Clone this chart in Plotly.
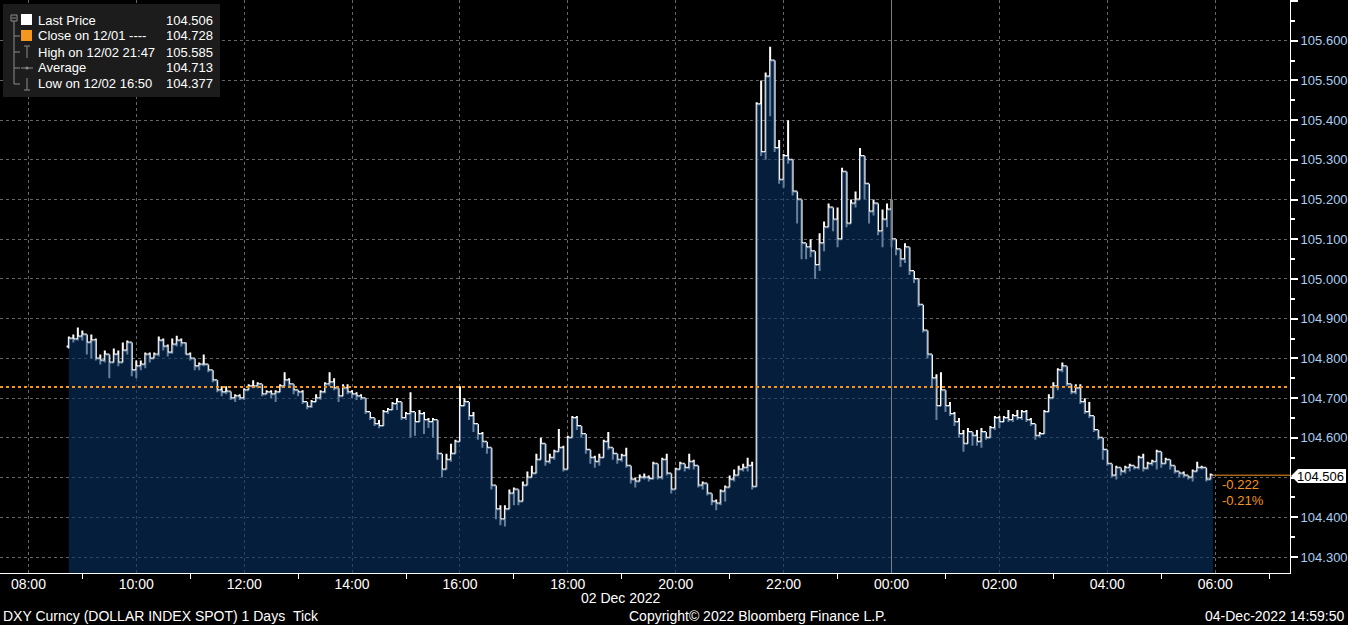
import pandas as pd
import plotly.graph_objects as go

# ---------------- data (DXY, 5-minute bars, 02 Dec 2022 08:45 -> 03 Dec 05:55) ----------------
start_time = "2022-12-02 08:45"
first_open = 104.830
prev_close = 104.728
last_price = 104.506
net_change = "-0.222"
pct_change = "-0.21%"

close_px = [
    104.850, 104.848, 104.855, 104.860, 104.840, 104.846, 104.800, 104.795, 104.810, 104.790,
    104.810, 104.790, 104.820, 104.840, 104.770, 104.780, 104.785, 104.810, 104.800, 104.810,
    104.845, 104.830, 104.815, 104.835, 104.845, 104.838, 104.810, 104.800, 104.780, 104.785,
    104.785, 104.770, 104.745, 104.720, 104.715, 104.717, 104.700, 104.705, 104.700, 104.720,
    104.730, 104.730, 104.735, 104.710, 104.715, 104.710, 104.715, 104.730, 104.745, 104.735,
    104.720, 104.715, 104.690, 104.678, 104.690, 104.700, 104.715, 104.735, 104.740, 104.725,
    104.705, 104.725, 104.715, 104.710, 104.705, 104.700, 104.665, 104.650, 104.635, 104.630,
    104.665, 104.670, 104.685, 104.690, 104.650, 104.660, 104.665, 104.640, 104.660, 104.645,
    104.640, 104.645, 104.560, 104.520, 104.545, 104.560, 104.590, 104.680, 104.690, 104.655,
    104.635, 104.610, 104.590, 104.575, 104.480, 104.420, 104.395, 104.420, 104.460, 104.470,
    104.440, 104.480, 104.500, 104.510, 104.545, 104.585, 104.540, 104.550, 104.565, 104.575,
    104.520, 104.600, 104.650, 104.630, 104.610, 104.570, 104.550, 104.540, 104.550, 104.590,
    104.575, 104.560, 104.545, 104.555, 104.530, 104.495, 104.490, 104.500, 104.500, 104.497,
    104.535, 104.500, 104.545, 104.510, 104.470, 104.520, 104.535, 104.525, 104.540, 104.530,
    104.480, 104.485, 104.460, 104.440, 104.435, 104.465, 104.475, 104.495, 104.505, 104.520,
    104.525, 104.530, 104.477, 105.440, 105.320, 105.510, 105.550, 105.330, 105.250, 105.310,
    105.300, 105.220, 105.200, 105.090, 105.080, 105.070, 105.035, 105.090, 105.130, 105.180,
    105.150, 105.100, 105.270, 105.140, 105.190, 105.200, 105.310, 105.240, 105.170, 105.190,
    105.120, 105.150, 105.175, 105.100, 105.075, 105.050, 105.080, 105.020, 105.000, 104.935,
    104.870, 104.810, 104.750, 104.680, 104.720, 104.680, 104.660, 104.640, 104.610, 104.585,
    104.615, 104.605, 104.590, 104.615, 104.600, 104.625, 104.650, 104.640, 104.650, 104.645,
    104.655, 104.650, 104.665, 104.645, 104.635, 104.605, 104.610, 104.665, 104.700, 104.730,
    104.770, 104.780, 104.735, 104.715, 104.725, 104.690, 104.665, 104.655, 104.620, 104.600,
    104.570, 104.535, 104.505, 104.525, 104.515, 104.525, 104.530, 104.525, 104.550, 104.523,
    104.535, 104.540, 104.565, 104.535, 104.545, 104.530, 104.515, 104.510, 104.505, 104.500,
    104.515, 104.525, 104.525, 104.495, 104.506,
]

high_px = [
    104.855, 104.860, 104.878, 104.870, 104.860, 104.860, 104.850, 104.810, 104.820, 104.810,
    104.825, 104.820, 104.840, 104.845, 104.840, 104.795, 104.795, 104.815, 104.815, 104.815,
    104.855, 104.850, 104.835, 104.850, 104.857, 104.850, 104.840, 104.815, 104.800, 104.790,
    104.810, 104.785, 104.770, 104.745, 104.730, 104.730, 104.717, 104.710, 104.710, 104.725,
    104.735, 104.745, 104.740, 104.735, 104.720, 104.720, 104.720, 104.735, 104.765, 104.750,
    104.735, 104.720, 104.720, 104.690, 104.695, 104.710, 104.720, 104.740, 104.765, 104.750,
    104.725, 104.735, 104.735, 104.720, 104.715, 104.710, 104.700, 104.665, 104.650, 104.645,
    104.670, 104.675, 104.690, 104.700, 104.690, 104.665, 104.715, 104.665, 104.670, 104.665,
    104.650, 104.650, 104.645, 104.560, 104.560, 104.585, 104.595, 104.730, 104.700, 104.690,
    104.665, 104.635, 104.615, 104.590, 104.575, 104.480, 104.430, 104.430, 104.470, 104.475,
    104.470, 104.490, 104.515, 104.530, 104.560, 104.600, 104.585, 104.560, 104.570, 104.622,
    104.580, 104.605, 104.655, 104.655, 104.630, 104.610, 104.570, 104.555, 104.560, 104.595,
    104.615, 104.575, 104.560, 104.560, 104.575, 104.530, 104.500, 104.508, 104.510, 104.505,
    104.540, 104.535, 104.550, 104.560, 104.510, 104.525, 104.540, 104.535, 104.560, 104.545,
    104.530, 104.490, 104.485, 104.460, 104.445, 104.470, 104.480, 104.505, 104.520, 104.530,
    104.535, 104.550, 104.540, 105.445, 105.500, 105.520, 105.585, 105.550, 105.350, 105.315,
    105.400, 105.300, 105.220, 105.200, 105.090, 105.100, 105.070, 105.115, 105.145, 105.190,
    105.180, 105.180, 105.280, 105.270, 105.200, 105.220, 105.330, 105.310, 105.240, 105.200,
    105.190, 105.175, 105.190, 105.200, 105.100, 105.075, 105.090, 105.080, 105.020, 105.000,
    104.935, 104.870, 104.810, 104.760, 104.765, 104.720, 104.690, 104.665, 104.650, 104.620,
    104.625, 104.615, 104.620, 104.625, 104.615, 104.630, 104.655, 104.655, 104.655, 104.670,
    104.660, 104.670, 104.670, 104.670, 104.650, 104.635, 104.615, 104.670, 104.710, 104.740,
    104.775, 104.790, 104.780, 104.735, 104.735, 104.735, 104.700, 104.690, 104.655, 104.620,
    104.600, 104.570, 104.535, 104.530, 104.525, 104.530, 104.535, 104.530, 104.555, 104.560,
    104.540, 104.545, 104.570, 104.565, 104.550, 104.545, 104.530, 104.515, 104.515, 104.505,
    104.520, 104.540, 104.530, 104.525, 104.510,
]

low_px = [
    104.825, 104.840, 104.845, 104.845, 104.810, 104.800, 104.795, 104.785, 104.790, 104.750,
    104.790, 104.780, 104.790, 104.810, 104.755, 104.750, 104.770, 104.775, 104.790, 104.800,
    104.805, 104.820, 104.805, 104.812, 104.830, 104.830, 104.810, 104.795, 104.770, 104.770,
    104.780, 104.765, 104.740, 104.715, 104.705, 104.710, 104.695, 104.690, 104.695, 104.695,
    104.720, 104.725, 104.725, 104.705, 104.710, 104.700, 104.690, 104.715, 104.730, 104.730,
    104.710, 104.705, 104.685, 104.672, 104.675, 104.690, 104.696, 104.712, 104.730, 104.720,
    104.690, 104.705, 104.710, 104.700, 104.695, 104.695, 104.660, 104.645, 104.630, 104.624,
    104.630, 104.660, 104.670, 104.670, 104.645, 104.645, 104.600, 104.605, 104.640, 104.610,
    104.625, 104.600, 104.545, 104.500, 104.520, 104.540, 104.560, 104.590, 104.680, 104.645,
    104.615, 104.595, 104.575, 104.560, 104.470, 104.395, 104.380, 104.377, 104.420, 104.430,
    104.430, 104.440, 104.480, 104.500, 104.510, 104.545, 104.530, 104.535, 104.545, 104.565,
    104.515, 104.520, 104.600, 104.620, 104.600, 104.560, 104.535, 104.525, 104.530, 104.550,
    104.570, 104.545, 104.535, 104.540, 104.525, 104.485, 104.475, 104.490, 104.495, 104.490,
    104.495, 104.495, 104.495, 104.505, 104.460, 104.470, 104.520, 104.515, 104.520, 104.520,
    104.475, 104.470, 104.455, 104.430, 104.418, 104.430, 104.440, 104.475, 104.490, 104.505,
    104.515, 104.515, 104.470, 104.477, 105.310, 105.300, 105.410, 105.320, 105.240, 105.230,
    105.290, 105.210, 105.140, 105.050, 105.050, 105.055, 105.000, 105.020, 105.070, 105.130,
    105.120, 105.080, 105.100, 105.130, 105.140, 105.180, 105.200, 105.200, 105.140, 105.160,
    105.110, 105.080, 105.130, 105.080, 105.060, 105.030, 105.040, 105.010, 104.990, 104.930,
    104.865, 104.800, 104.730, 104.645, 104.680, 104.665, 104.655, 104.630, 104.600, 104.565,
    104.585, 104.580, 104.580, 104.575, 104.595, 104.600, 104.620, 104.625, 104.640, 104.640,
    104.640, 104.645, 104.645, 104.640, 104.630, 104.595, 104.600, 104.610, 104.665, 104.700,
    104.720, 104.765, 104.730, 104.710, 104.710, 104.685, 104.660, 104.650, 104.615, 104.595,
    104.545, 104.530, 104.500, 104.495, 104.505, 104.510, 104.515, 104.520, 104.520, 104.515,
    104.520, 104.530, 104.520, 104.525, 104.535, 104.520, 104.510, 104.500, 104.500, 104.495,
    104.490, 104.515, 104.520, 104.490, 104.495,
]

legend_labels = ["Last Price", "Close on 12/01 ----", "High on 12/02 21:47", "Average", "Low on 12/02 16:50"]
legend_values = ["104.506", "104.728", "105.585", "104.713", "104.377"]

# y tick labels (104.500 is covered by the last-price tag in the original)
y_tick_vals = [104.3, 104.4, 104.5, 104.6, 104.7, 104.8, 104.9, 105.0, 105.1, 105.2, 105.3, 105.4, 105.5, 105.6, 105.7]
y_tick_text = ["104.300", "104.400", "", "104.600", "104.700", "104.800", "104.900", "105.000",
               "105.100", "105.200", "105.300", "105.400", "105.500", "105.600", ""]

x_range = ["2022-12-02 07:28:25", "2022-12-03 07:23:13"]
y_range = [104.2597, 105.7025]
day_break = "2022-12-03 00:00"
date_label = "02 Dec 2022"
footer_left = "DXY Curncy (DOLLAR INDEX SPOT) 1 Days\u00a0\u00a0Tick"
footer_mid = "Copyright\u00a9 2022 Bloomberg Finance L.P."
footer_right = "04-Dec-2022 14:59:50"

# ---------------- build ----------------
times = pd.date_range(start_time, periods=len(close_px), freq="5min")
open_px = [first_open] + close_px[:-1]
half_bar = pd.Timedelta(minutes=2.5)

W, H = 1348, 625
ML, MR, MT, MB = 0, 58, 0, 52
PW, PH = W - ML - MR, H - MT - MB


def px(x):
    return (x - ML) / PW


def py(y):
    return 1 - (y - MT) / PH


ORANGE = "#f5961e"
FONT = "Liberation Sans Narrow, Arial Narrow, Liberation Sans, Arial, sans-serif"
FONT2 = "Liberation Sans, Arial, sans-serif"

fig = go.Figure()

fill_x = list(times) + [times[-1] + half_bar]
fill_y = close_px + [close_px[-1]]
fig.add_trace(go.Scatter(
    x=fill_x, y=fill_y, mode="lines", line=dict(width=0, shape="hv"),
    fill="tozeroy", fillcolor="rgba(8,48,96,0.62)", hoverinfo="skip", showlegend=False,
))
fig.add_trace(go.Ohlc(
    x=times, open=open_px, high=high_px, low=low_px, close=close_px,
    increasing=dict(line=dict(color="#ffffff", width=2)),
    decreasing=dict(line=dict(color="#ffffff", width=2)),
    tickwidth=0.5, showlegend=False,
))

shapes = []
shapes.append(dict(type="line", xref="paper", yref="y", x0=0, x1=1, y0=prev_close, y1=prev_close,
                   line=dict(color=ORANGE, width=2, dash="dot"), layer="above"))
shapes.append(dict(type="line", xref="x", yref="paper", x0=day_break, x1=day_break, y0=0, y1=1,
                   line=dict(color="#7a7f86", width=1), layer="above"))
shapes.append(dict(type="line", xref="x", yref="y", x0=times[-1] + half_bar, x1=x_range[1],
                   y0=last_price, y1=last_price, line=dict(color=ORANGE, width=1)))
tag_y0, tag_y1, tag_mid = 469, 483, 476
path = (f"M {px(1291)},{py(tag_mid)} L {px(1298)},{py(tag_y0)} L {px(1346)},{py(tag_y0)} "
        f"L {px(1346)},{py(tag_y1)} L {px(1298)},{py(tag_y1)} Z")
shapes.append(dict(type="path", xref="paper", yref="paper", path=path,
                   fillcolor="white", line=dict(width=0)))

shapes.append(dict(type="rect", xref="paper", yref="paper", x0=px(3), x1=px(220), y0=py(97), y1=py(4),
                   fillcolor="#1c1c1c", line=dict(width=0), layer="above"))
rows = [20, 36, 52, 68, 84]
gray = "#8c8c8c"
shapes.append(dict(type="rect", xref="paper", yref="paper", x0=px(11), x1=px(17), y0=py(21), y1=py(15),
                   line=dict(color=gray, width=1), fillcolor="rgba(0,0,0,0)"))
shapes.append(dict(type="line", xref="paper", yref="paper", x0=px(12), x1=px(16), y0=py(18), y1=py(18),
                   line=dict(color=gray, width=1)))
shapes.append(dict(type="line", xref="paper", yref="paper", x0=px(14), x1=px(14), y0=py(21), y1=py(84),
                   line=dict(color=gray, width=1)))
for ry in rows[1:]:
    shapes.append(dict(type="line", xref="paper", yref="paper", x0=px(14), x1=px(20), y0=py(ry), y1=py(ry),
                       line=dict(color=gray, width=1)))
shapes.append(dict(type="rect", xref="paper", yref="paper", x0=px(21), x1=px(32), y0=py(25), y1=py(14),
                   fillcolor="white", line=dict(width=0)))
shapes.append(dict(type="rect", xref="paper", yref="paper", x0=px(21), x1=px(32), y0=py(41), y1=py(30),
                   fillcolor=ORANGE, line=dict(width=0)))
shapes.append(dict(type="line", xref="paper", yref="paper", x0=px(27), x1=px(27), y0=py(46), y1=py(58),
                   line=dict(color=gray, width=1)))
shapes.append(dict(type="line", xref="paper", yref="paper", x0=px(24), x1=px(30), y0=py(46), y1=py(46),
                   line=dict(color=gray, width=1)))
shapes.append(dict(type="line", xref="paper", yref="paper", x0=px(21), x1=px(33), y0=py(68), y1=py(68),
                   line=dict(color=gray, width=1)))
shapes.append(dict(type="circle", xref="paper", yref="paper", x0=px(25.5), x1=px(28.5), y0=py(69.5), y1=py(66.5),
                   fillcolor=gray, line=dict(width=0)))
shapes.append(dict(type="line", xref="paper", yref="paper", x0=px(27), x1=px(27), y0=py(78), y1=py(90),
                   line=dict(color=gray, width=1)))
shapes.append(dict(type="line", xref="paper", yref="paper", x0=px(24), x1=px(30), y0=py(90), y1=py(90),
                   line=dict(color=gray, width=1)))

annotations = []
for ry, lab, val in zip(rows, legend_labels, legend_values):
    annotations.append(dict(xref="paper", yref="paper", x=px(36), y=py(ry), text=lab, showarrow=False,
                            xanchor="left", yanchor="middle", font=dict(family=FONT2, size=13, color="white")))
    annotations.append(dict(xref="paper", yref="paper", x=px(215), y=py(ry), text=val, showarrow=False,
                            xanchor="right", yanchor="middle", font=dict(family=FONT2, size=13, color="white")))

annotations.append(dict(xref="paper", yref="paper", x=px(1321), y=py(tag_mid), text=f"{last_price:.3f}",
                        showarrow=False, xanchor="center", yanchor="middle",
                        font=dict(family=FONT2, size=13, color="black")))
annotations.append(dict(xref="paper", yref="paper", x=px(1220), y=py(484), text=net_change, showarrow=False,
                        xanchor="left", yanchor="middle", font=dict(family=FONT2, size=13, color=ORANGE)))
annotations.append(dict(xref="paper", yref="paper", x=px(1220), y=py(500), text=pct_change, showarrow=False,
                        xanchor="left", yanchor="middle", font=dict(family=FONT2, size=13, color=ORANGE)))
annotations.append(dict(xref="paper", yref="paper", x=px(621), y=py(598), text=date_label, showarrow=False,
                        xanchor="center", yanchor="middle", font=dict(family=FONT, size=14, color="white")))
annotations.append(dict(xref="paper", yref="paper", x=px(1), y=py(616), text=footer_left, showarrow=False,
                        xanchor="left", yanchor="middle", font=dict(family=FONT, size=14, color="white")))
annotations.append(dict(xref="paper", yref="paper", x=px(627), y=py(616), text=footer_mid, showarrow=False,
                        xanchor="left", yanchor="middle", font=dict(family=FONT, size=14, color="white")))
annotations.append(dict(xref="paper", yref="paper", x=px(1347), y=py(616), text=footer_right, showarrow=False,
                        xanchor="right", yanchor="middle", font=dict(family=FONT, size=14, color="white")))

fig.update_layout(
    width=W, height=H,
    margin=dict(l=ML, r=MR, t=MT, b=MB, pad=0),
    paper_bgcolor="black", plot_bgcolor="black",
    showlegend=False,
    shapes=shapes, annotations=annotations,
    xaxis=dict(
        type="date", range=x_range, rangeslider=dict(visible=False),
        tick0="2022-12-02 00:00", dtick=2 * 3600 * 1000, tickformat="%H:%M",
        ticks="", tickfont=dict(family=FONT, size=14, color="white"), ticklabelstandoff=-2,
        showgrid=True, gridcolor="#666666", griddash="dot", gridwidth=1,
        showline=True, linecolor="white", linewidth=1,
        minor=dict(dtick=3600 * 1000, ticks="outside", ticklen=5, tickcolor="white", showgrid=False),
        zeroline=False, fixedrange=True,
    ),
    yaxis=dict(
        side="right", range=y_range, tickmode="array", tickvals=y_tick_vals, ticktext=y_tick_text,
        ticks="outside", ticklen=7, tickwidth=2, tickcolor="white",
        tickfont=dict(family=FONT2, size=13, color="#a8cff2"),
        showgrid=True, gridcolor="#666666", griddash="dot", gridwidth=1,
        showline=True, linecolor="white", linewidth=1,
        minor=dict(dtick=0.05, tick0=104.3, ticks="outside", ticklen=4, tickcolor="white", showgrid=False),
        zeroline=False, fixedrange=True,
    ),
)

fig.write_html(
    "out.html",
    config={"displayModeBar": False},
    post_script="document.body.style.margin='0';document.body.style.background='black';",
)
